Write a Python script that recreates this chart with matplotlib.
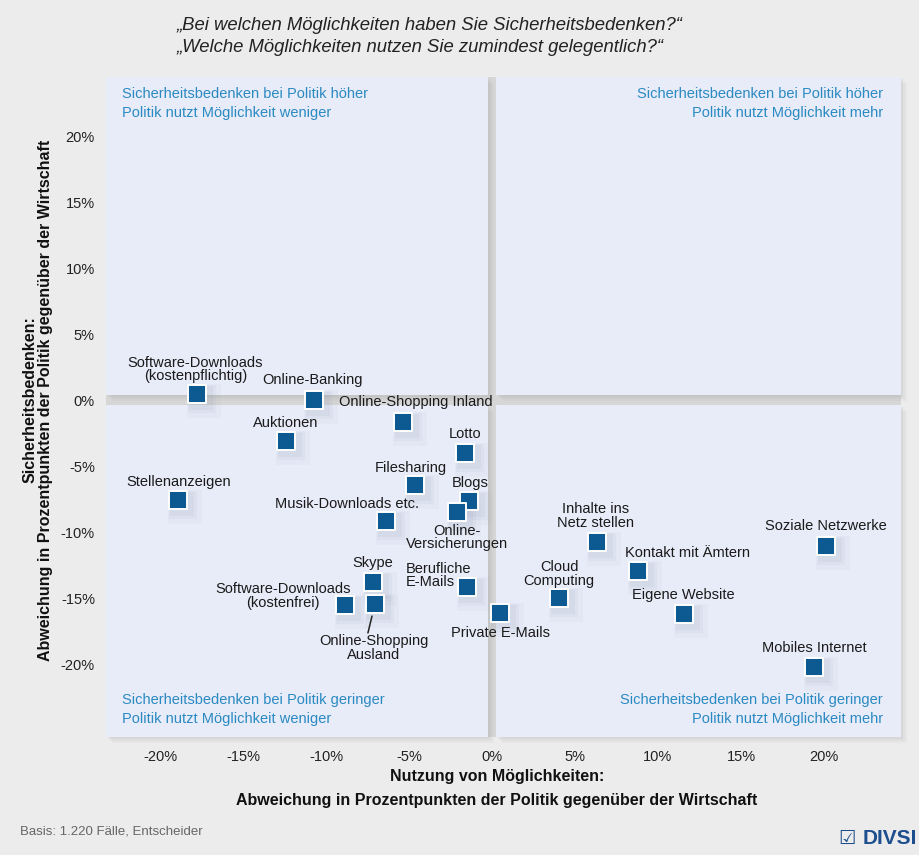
import matplotlib
matplotlib.use("Agg")
import matplotlib.pyplot as plt
import matplotlib.transforms as mtransforms
from matplotlib.patches import Rectangle

plt.rcParams['font.family'] = ['Liberation Sans', 'DejaVu Sans']

# values (percentage points)
names = ["Software-Downloads\n(kostenpflichtig)", "Online-Banking", "Online-Shopping Inland",
         "Auktionen", "Lotto", "Stellenanzeigen", "Filesharing", "Blogs",
         "Online-\nVersicherungen", "Musik-Downloads etc.", "Skype",
         "Software-Downloads\n(kostenfrei)", "Online-Shopping\nAusland", "Berufliche\nE-Mails",
         "Private E-Mails", "Inhalte ins\nNetz stellen", "Soziale Netzwerke",
         "Kontakt mit Ämtern", "Cloud\nComputing", "Eigene Website", "Mobiles Internet"]
nutzung = [-17.75, -10.72, -5.34, -12.43, -1.63, -18.9, -4.66, -1.40,
           -2.11, -6.37, -7.19, -8.87, -7.05, -1.52,
           0.5, 6.34, 20.1, 8.81, 4.04, 11.55, 19.42]
bedenken = [0.43, 0.0, -1.64, -3.1, -4.04, -7.58, -6.44, -7.63,
            -8.51, -9.17, -13.81, -15.53, -15.45, -14.14,
            -16.16, -10.76, -11.06, -12.95, -15.0, -16.21, -20.2]

# label placement (pixel offsets from marker, alignment)
offsets = [(-2, 25, 'center'), (-2, 20, 'center'), (12, 20, 'center'), (0, 18, 'center'),
           (0, 19, 'center'), (0, 18, 'center'), (-4, 17, 'center'), (1, 18, 'center'),
           (0, -25, 'center'), (-39, 17, 'center'), (0, 19, 'center'),
           (-62, 9, 'center'), (-1, -44, 'center'), (-61, 11, 'left'),
           (0, -20, 'center'), (-2, 26, 'center'), (0, 20, 'center'),
           (49, 18, 'center'), (0, 24, 'center'), (0, 19, 'center'), (0, 19, 'center')]

xticks = [-20, -15, -10, -5, 0, 5, 10, 15, 20]
yticks = [-20, -15, -10, -5, 0, 5, 10, 15, 20]

bg = '#ececec'
panel = '#e8ebf8'
band = '#d6d6d6'
blue = '#0c5a91'
qblue = '#2a8ac2'

fig = plt.figure(figsize=(9.2, 8.55), dpi=100, facecolor=bg)
ax = fig.add_axes([106 / 920, 118 / 855, 795 / 920, 660 / 855])
ax.set_facecolor(band)
xmin, xmax = -23.25, 24.64
ymin, ymax = -25.53, 24.47
ax.set_xlim(xmin, xmax)
ax.set_ylim(ymin, ymax)
for s in ax.spines.values():
    s.set_visible(False)

gx, gy = 0.24, 0.38
quads = [(xmin, gy, -gx - xmin, ymax - gy), (gx, gy, xmax - gx, ymax - gy),
         (xmin, ymin, -gx - xmin, -gy - ymin), (gx, ymin, xmax - gx, -gy - ymin)]
# soft shadow of the panels
for k, a in [(6, 0.05), (4, 0.07), (2, 0.09)]:
    sh = mtransforms.offset_copy(ax.transData, fig=fig, x=k, y=-k, units='dots')
    for (x0, y0, w, h) in quads:
        ax.add_patch(Rectangle((x0, y0), w, h, transform=sh, color='#888888',
                               alpha=a, lw=0, zorder=0.5, clip_on=False))
for (x0, y0, w, h) in quads:
    ax.add_patch(Rectangle((x0, y0), w, h, color=panel, lw=0, zorder=1, clip_on=False))

ax.set_xticks(xticks)
ax.set_xticklabels([f"{v}%" for v in xticks])
ax.set_yticks(yticks)
ax.set_yticklabels([f"{v}%" for v in yticks])
ax.tick_params(length=0, labelsize=10.5, colors='#222222', pad=8)
ax.tick_params(axis='x', pad=9)

# marker shadows
for k, a, ms in [(7, 0.04, 24), (5, 0.06, 20), (4, 0.07, 17)]:
    sh = mtransforms.offset_copy(ax.transData, fig=fig, x=k, y=-k, units='dots')
    ax.scatter(nutzung, bedenken, s=ms ** 2, marker='s', color='#7a86a0', alpha=a,
               lw=0, transform=sh, zorder=2)
ax.scatter(nutzung, bedenken, s=13.2 ** 2, marker='s', color=blue,
           edgecolors='white', linewidths=1.4, zorder=3)

for name, xv, yv, (dx, dy, ha) in zip(names, nutzung, bedenken, offsets):
    ax.annotate(name, (xv, yv), xytext=(dx, dy), textcoords='offset pixels',
                ha=ha, va='center', fontsize=10.5, color='#1a1a1a',
                linespacing=0.95, multialignment=ha, zorder=4)

# leader line for Online-Shopping Ausland
i = names.index("Online-Shopping\nAusland")
ax.annotate("", (nutzung[i], bedenken[i]), xytext=(-7, -29), textcoords='offset pixels',
            arrowprops=dict(arrowstyle='-', color='#222222', lw=1.1,
                            shrinkA=0, shrinkB=9), zorder=4)

qs = dict(fontsize=10.5, color=qblue, transform=fig.transFigure, va='center')
fig.text(122 / 920, 1 - 94 / 855, "Sicherheitsbedenken bei Politik höher", ha='left', **qs)
fig.text(122 / 920, 1 - 113 / 855, "Politik nutzt Möglichkeit weniger", ha='left', **qs)
fig.text(883 / 920, 1 - 94 / 855, "Sicherheitsbedenken bei Politik höher", ha='right', **qs)
fig.text(883 / 920, 1 - 113 / 855, "Politik nutzt Möglichkeit mehr", ha='right', **qs)
fig.text(122 / 920, 1 - 700 / 855, "Sicherheitsbedenken bei Politik geringer", ha='left', **qs)
fig.text(122 / 920, 1 - 719 / 855, "Politik nutzt Möglichkeit weniger", ha='left', **qs)
fig.text(883 / 920, 1 - 700 / 855, "Sicherheitsbedenken bei Politik geringer", ha='right', **qs)
fig.text(883 / 920, 1 - 719 / 855, "Politik nutzt Möglichkeit mehr", ha='right', **qs)

fig.text(177 / 920, 1 - 25 / 855, "„Bei welchen Möglichkeiten haben Sie Sicherheitsbedenken?“",
         fontsize=13.3, style='italic', color='#222222', va='center')
fig.text(177 / 920, 1 - 48 / 855, "„Welche Möglichkeiten nutzen Sie zumindest gelegentlich?“",
         fontsize=13.3, style='italic', color='#222222', va='center')

fig.text(497 / 920, 1 - 776 / 855, "Nutzung von Möglichkeiten:", ha='center', va='center',
         fontsize=11.5, fontweight='bold', color='#111111')
fig.text(497 / 920, 1 - 800 / 855, "Abweichung in Prozentpunkten der Politik gegenüber der Wirtschaft",
         ha='center', va='center', fontsize=11.5, fontweight='bold', color='#111111')
fig.text(30 / 920, 1 - 400 / 855, "Sicherheitsbedenken:", ha='center', va='center',
         rotation=90, fontsize=11.5, fontweight='bold', color='#111111')
fig.text(46 / 920, 1 - 400 / 855, "Abweichung in Prozentpunkten der Politik gegenüber der Wirtschaft",
         ha='center', va='center', rotation=90, fontsize=11.5, fontweight='bold', color='#111111')

fig.text(20 / 920, 1 - 831 / 855, "Basis: 1.220 Fälle, Entscheider", fontsize=9.5,
         color='#666666', va='center')
fig.text(917 / 920, 1 - 838 / 855, "DIVSI", fontsize=15, fontweight='bold', color='#1d4f8f',
         ha='right', va='center')
fig.text(847 / 920, 1 - 838 / 855, "☑", fontsize=14, color='#1d4f8f', ha='center',
         va='center', family=['DejaVu Sans'])

fig.savefig("out.png", dpi=100, facecolor=bg)
